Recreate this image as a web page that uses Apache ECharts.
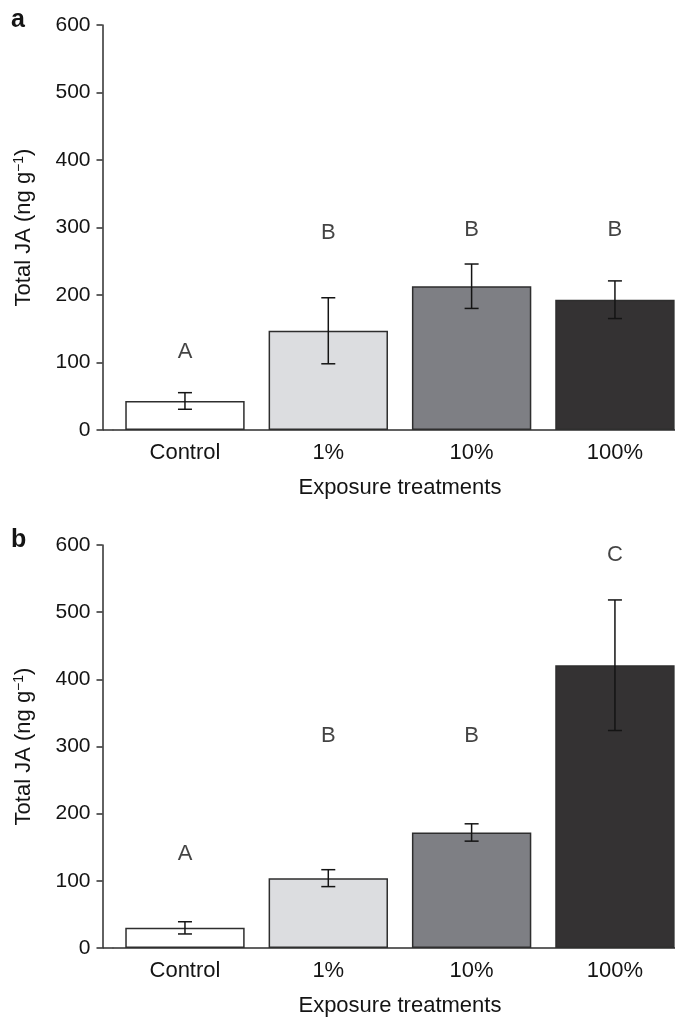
<!DOCTYPE html>
<html>
<head>
<meta charset="utf-8">
<script src="https://cdn.jsdelivr.net/npm/echarts@6/dist/echarts.min.js"></script>
<style>html,body{margin:0;padding:0;background:#fff;overflow:hidden}#c{width:690px;height:1018px}</style>
</head>
<body>
<div id="c"></div>
<script>
// ---- data ----
const categories = ['Control', '1%', '10%', '100%'];
const meanA = [43, 147, 213, 193];
const errA = [12.3, 48.9, 32.9, 27.9];
const lettersA = ['A', 'B', 'B', 'B'];
const letterValA = [115, 292, 296, 296];
const meanB = [30, 104, 172, 421];
const errB = [9.1, 12.6, 12.9, 97.2];
const lettersB = ['A', 'B', 'B', 'C'];
const letterValB = [140, 315, 315, 585];
const yMin = 0, yMax = 600, yStep = 100;
const panelLabels = ['a', 'b'];

// ---- styles ----
const barColors = ['#ffffff', '#dcdde0', '#7e7f84', '#343233'];
const ink = '#141414';
const lineCol = '#2e2e2e';
const FONT = 'Liberation Sans, Arial, sans-serif';
const gridLeft = 113.3, gridWidth = 573.3, yOffset = 10.8;
const grids = [{top: 25, height: 405}, {top: 545, height: 405}];

const chart = echarts.init(document.getElementById('c'), null, {renderer: 'canvas'});

function xAxisFor(i) {
  return {
    type: 'category', gridIndex: i, data: categories,
    axisLine: {lineStyle: {color: lineCol, width: 1.5}},
    axisTick: {alignWithLabel: true, length: 6, lineStyle: {color: lineCol, width: 1.5}},
    axisLabel: {color: ink, fontSize: 22, fontFamily: FONT, margin: 12},
    name: 'Exposure treatments', nameLocation: 'middle', nameGap: 47,
    nameTextStyle: {color: ink, fontSize: 22, fontFamily: FONT}
  };
}
function yAxisFor(i) {
  return {
    type: 'value', gridIndex: i, min: yMin, max: yMax, interval: yStep, offset: yOffset,
    axisLine: {show: true, lineStyle: {color: lineCol, width: 1.5}},
    axisTick: {show: true, length: 6, lineStyle: {color: lineCol, width: 1.5}},
    splitLine: {show: false},
    axisLabel: {color: ink, fontSize: 21, fontFamily: FONT, margin: 12},
    name: '{n|Total JA (ng g}{s|−1}{n|)}', nameLocation: 'middle', nameGap: 68, nameRotate: 90,
    nameTextStyle: {
      color: ink, fontFamily: FONT,
      rich: {
        n: {fontSize: 22, fontFamily: FONT, color: ink},
        s: {fontSize: 14, fontFamily: FONT, color: ink, verticalAlign: 'top'}
      }
    }
  };
}
function barSeries(i, means) {
  return {
    type: 'bar', xAxisIndex: i, yAxisIndex: i, barCategoryGap: '16.7%',
    data: means.map((v, k) => ({value: v, itemStyle: {color: barColors[k]}})),
    itemStyle: {borderColor: lineCol, borderWidth: 1.5},
    silent: true, z: 2
  };
}
function errSeries(i, means, errs) {
  return {
    type: 'custom', xAxisIndex: i, yAxisIndex: i, z: 5, silent: true,
    data: means.map((m, k) => [k, m - errs[k], m + errs[k]]),
    renderItem: function (params, api) {
      const lo = api.coord([api.value(0), api.value(1)]);
      const hi = api.coord([api.value(0), api.value(2)]);
      const cap = 7;
      const st = {stroke: ink, lineWidth: 1.5};
      return {type: 'group', children: [
        {type: 'line', shape: {x1: lo[0], y1: lo[1], x2: hi[0], y2: hi[1]}, style: st},
        {type: 'line', shape: {x1: lo[0] - cap, y1: lo[1], x2: lo[0] + cap, y2: lo[1]}, style: st},
        {type: 'line', shape: {x1: hi[0] - cap, y1: hi[1], x2: hi[0] + cap, y2: hi[1]}, style: st}
      ]};
    }
  };
}
function letterSeries(i, vals, letters) {
  return {
    type: 'scatter', xAxisIndex: i, yAxisIndex: i, symbolSize: 0, silent: true,
    data: vals.map((v, k) => ({value: [k, v], name: letters[k]})),
    label: {show: true, position: 'inside', formatter: p => p.name,
      color: ink, fontSize: 22, fontFamily: FONT}
  };
}

chart.setOption({
  animation: false,
  backgroundColor: '#fff',
  title: panelLabels.map((t, i) => ({
    text: t, left: 6, top: grids[i].top - 22,
    textStyle: {fontSize: 25, fontWeight: 'bold', color: ink, fontFamily: FONT}
  })),
  grid: grids.map(g => ({left: gridLeft, width: gridWidth, top: g.top, height: g.height, containLabel: false})),
  xAxis: [xAxisFor(0), xAxisFor(1)],
  yAxis: [yAxisFor(0), yAxisFor(1)],
  series: [
    barSeries(0, meanA), errSeries(0, meanA, errA), letterSeries(0, letterValA, lettersA),
    barSeries(1, meanB), errSeries(1, meanB, errB), letterSeries(1, letterValB, lettersB)
  ]
});

// extend the x-axis line to meet the offset y-axis
const extra = [0, 1].map(i => {
  const y0 = chart.convertToPixel({yAxisIndex: i}, yMin);
  return {type: 'line', silent: true, z: 10,
    shape: {x1: gridLeft - yOffset, y1: y0, x2: gridLeft, y2: y0},
    style: {stroke: lineCol, lineWidth: 1.5}};
});
chart.setOption({graphic: extra});
</script>
</body>
</html>
